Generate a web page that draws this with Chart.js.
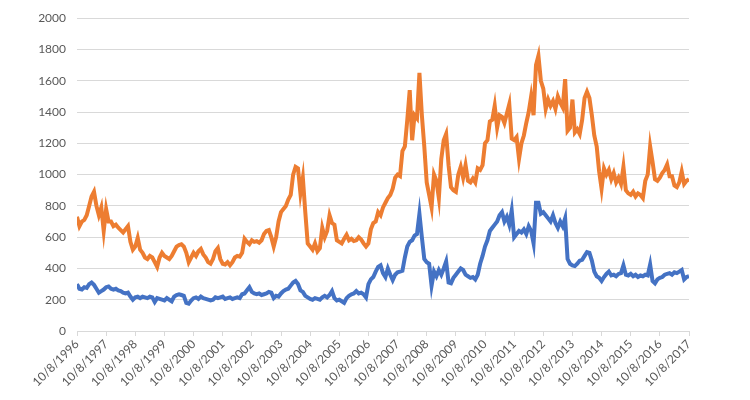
<!DOCTYPE html>
<html>
<head>
<meta charset="utf-8">
<script src="https://cdn.jsdelivr.net/npm/chart.js@4.4.1/dist/chart.umd.min.js"></script>
<style>
  html, body { margin: 0; padding: 0; background: #fff; }
  #wrap { width: 750px; height: 400px; }
</style>
</head>
<body>
<div id="wrap"><canvas id="chart" width="750" height="400"></canvas></div>
<script>
// tick labels, one per year (10/8/1996 .. 10/8/2017)
const tickLabels = ['10/8/1996', '10/8/1997', '10/8/1998', '10/8/1999', '10/8/2000', '10/8/2001',
    '10/8/2002', '10/8/2003', '10/8/2004', '10/8/2005', '10/8/2006', '10/8/2007', '10/8/2008',
    '10/8/2009', '10/8/2010', '10/8/2011', '10/8/2012', '10/8/2013', '10/8/2014', '10/8/2015',
    '10/8/2016', '10/8/2017'];

// monthly readings, one row per year
const orangeVals = [
    730, 670, 700, 710, 740, 800, 860, 890, 800, 740, 790, 640,
    780, 700, 700, 670, 680, 660, 645, 630, 650, 670, 570, 520,
    540, 595, 520, 500, 470, 460, 480, 470, 440, 410, 470, 500,
    480, 470, 460, 480, 510, 540, 550, 555, 540, 500, 440, 470,
    500, 480, 510, 525, 490, 470, 440, 430, 460, 510, 530, 460,
    430, 425, 440, 420, 440, 470, 480, 475, 500, 590, 570, 555,
    580, 570, 575, 565, 580, 620, 640, 645, 600, 540, 600, 700,
    760, 780, 800, 840, 870, 1000, 1050, 1040, 880, 980, 760, 560,
    540, 520, 560, 510, 530, 660, 600, 640, 740, 690, 680, 580,
    570, 560, 590, 615, 580, 590, 575, 580, 600, 585, 560, 540,
    560, 650, 690, 700, 760, 740, 790, 820, 850, 870, 910, 980,
    1000, 990, 1150, 1180, 1350, 1540, 1220, 1380, 1360, 1650, 1380, 1180,
    950, 870, 790, 1000, 960, 850, 1100, 1220, 1260, 1060, 920, 900,
    890, 1000, 1050, 980, 1060, 960, 950, 975, 950, 1040, 1030, 1060,
    1200, 1220, 1340, 1350, 1440, 1300, 1380, 1370, 1330, 1390, 1450, 1230,
    1220, 1240, 1100, 1200, 1250, 1330, 1400, 1500, 1380, 1700, 1760, 1600,
    1550, 1420, 1480, 1440, 1470, 1420, 1500, 1460, 1430, 1610, 1280, 1300,
    1480, 1270, 1290, 1260, 1350, 1490, 1530, 1490, 1380, 1250, 1180, 1020,
    910, 1040, 1000, 1030, 970, 1010, 950, 980, 940, 1050, 900, 880,
    870, 890, 860, 880, 870, 850, 960, 1000, 1180, 1080, 970, 960,
    980, 1010, 1030, 1065, 990, 990, 930, 920, 950, 1020, 940, 960,
    970
];

const blueVals = [
    300, 270, 265, 280, 275, 300, 310, 295, 270, 245, 255, 265,
    280, 285, 270, 265, 270, 260, 255, 245, 240, 245, 220, 200,
    215, 220, 210, 220, 215, 210, 220, 215, 185, 210, 205, 200,
    195, 210, 200, 190, 220, 230, 235, 230, 225, 180, 175, 195,
    210, 215, 205, 220, 210, 205, 200, 195, 200, 215, 210, 215,
    220, 205, 210, 215, 205, 210, 215, 210, 235, 240, 260, 280,
    250, 240, 235, 240, 230, 235, 240, 250, 245, 210, 225, 220,
    240, 255, 265, 270, 290, 310, 320, 300, 260, 250, 225, 215,
    205, 200, 210, 205, 200, 215, 225, 215, 230, 255, 210, 195,
    200, 190, 180, 210, 225, 235, 240, 255, 240, 245, 235, 215,
    300, 330, 345, 380, 410, 420, 370, 345, 400, 360, 325, 360,
    375, 380, 385, 470, 540, 570, 580, 610, 620, 750, 600, 460,
    440, 430, 290, 380, 350, 390, 360, 400, 445, 310, 305, 340,
    360, 380, 400, 390, 360, 350, 340, 345, 330, 360, 430, 480,
    540, 580, 640, 660, 680, 700, 740, 760, 700, 730, 680, 770,
    600, 620, 640, 630, 650, 620, 670, 640, 560, 820, 820, 750,
    760, 740, 720, 700, 740, 690, 660, 700, 670, 720, 460, 430,
    420, 415, 430, 450, 455, 480, 505, 500, 450, 380, 350, 340,
    320, 345, 365, 380, 355, 360, 350, 365, 370, 420, 360, 355,
    365, 350, 360, 345, 355, 350, 360, 355, 425, 320, 305, 330,
    340, 345, 360, 365, 370, 360, 375, 370, 380, 390, 330, 345,
    350
];

const yTicks = { min: 0, max: 2000, step: 200 };

const toPoints = vals => vals.map((v, i) => ({ x: i / 12, y: v }));

new Chart(document.getElementById('chart').getContext('2d'), {
    type: 'line',
    data: {
        datasets: [
            { data: toPoints(orangeVals), borderColor: '#ED7D31', borderWidth: 4, pointRadius: 0, tension: 0 },
            { data: toPoints(blueVals), borderColor: '#4472C4', borderWidth: 4, pointRadius: 0, tension: 0 }
        ]
    },
    options: {
        responsive: false,
        animation: false,
        layout: { padding: { top: 14, right: 61, left: 0, bottom: 0 } },
        plugins: { legend: { display: false }, tooltip: { enabled: false } },
        scales: {
            x: {
                type: 'linear',
                min: 0,
                max: tickLabels.length - 1,
                afterFit: s => { s.height = 69; },
                border: { display: true, color: '#d9d9d9', width: 1 },
                grid: { drawOnChartArea: false, drawTicks: true, tickLength: 5, color: '#d9d9d9' },
                ticks: {
                    stepSize: 1,
                    autoSkip: false,
                    maxRotation: 45,
                    minRotation: 45,
                    padding: 1,
                    color: '#595959',
                    font: { family: 'Lato', size: 12 },
                    callback: v => tickLabels[v]
                }
            },
            y: {
                min: yTicks.min,
                max: yTicks.max,
                afterFit: s => { s.width = 77; },
                border: { display: false },
                grid: { color: '#d9d9d9', lineWidth: 1, drawTicks: false },
                ticks: {
                    stepSize: yTicks.step,
                    padding: 11,
                    color: '#595959',
                    font: { family: 'Lato', size: 12 },
                    callback: v => String(v)
                }
            }
        }
    }
});
</script>
</body>
</html>
